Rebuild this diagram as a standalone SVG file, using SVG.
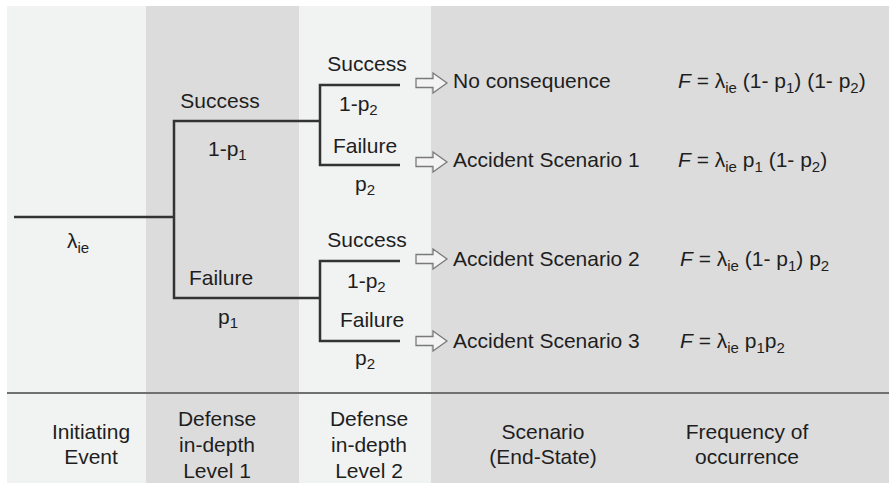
<svg xmlns="http://www.w3.org/2000/svg" xmlns:xlink="http://www.w3.org/1999/xlink" width="889" height="493" viewBox="0 0 889 493">
  <style>
    text { font-family: "Liberation Sans", Arial, Helvetica, sans-serif; font-size: 21px; fill: #1e1e1e; }
    .c { text-anchor: middle; }
    .sub { font-size: 15px; }
    .it { font-style: italic; }
    .branch { fill: none; stroke: #333; stroke-width: 2.5; stroke-linejoin: miter; stroke-linecap: butt; }
    .arrow { fill: #f3f3f3; stroke: #7a7a7a; stroke-width: 1.3; stroke-linejoin: miter; }
    .light { fill: #f1f2f2; }
    .dark { fill: #dcdcdc; }
  </style>
  <defs>
    <!-- hollow block arrow pointing right, origin at tail centre -->
    <path id="blockArrow" class="arrow" d="M0,-4.5 H17 V-10 L31,0 L17,10 V4.5 H0 Z"/>
  </defs>

  <rect width="889" height="493" fill="#ffffff"/>

  <!-- column bands -->
  <g id="bands">
    <rect class="light" x="7" y="6" width="139" height="477"/>
    <rect class="dark" x="146" y="6" width="153" height="477"/>
    <rect class="light" x="299" y="6" width="132" height="477"/>
    <rect class="dark" x="431" y="6" width="458" height="477"/>
    <line x1="7" y1="393" x2="889" y2="393" stroke="#707070" stroke-width="2"/>
  </g>

  <!-- event tree branches and end-state arrows -->
  <g id="connectors">
    <path class="branch" d="M14,217 H174"/>
    <path class="branch" d="M320,121 H174 V298 H320"/>
    <path class="branch" d="M400,85 H320 V165 H400"/>
    <path class="branch" d="M320,121 H320"/>
    <path class="branch" d="M400,261 H320 V341 H400"/>
    <use xlink:href="#blockArrow" x="416" y="83"/>
    <use xlink:href="#blockArrow" x="416" y="162"/>
    <use xlink:href="#blockArrow" x="416" y="259"/>
    <use xlink:href="#blockArrow" x="416" y="341"/>
  </g>

  <g id="initiating-event">
    <text x="67" y="248">λ<tspan class="sub" dy="5">ie</tspan></text>
  </g>

  <g id="level1-success">
    <text class="c" x="220" y="108">Success</text>
    <text x="208" y="156">1-p<tspan class="sub" dy="4">1</tspan></text>
  </g>
  <g id="level1-failure">
    <text class="c" x="221" y="285">Failure</text>
    <text x="218" y="324">p<tspan class="sub" dy="4">1</tspan></text>
  </g>

  <g id="level2-upper-success">
    <text class="c" x="367" y="71">Success</text>
    <text x="339" y="111">1-p<tspan class="sub" dy="4">2</tspan></text>
  </g>
  <g id="level2-upper-failure">
    <text class="c" x="365" y="153">Failure</text>
    <text x="355" y="191">p<tspan class="sub" dy="4">2</tspan></text>
  </g>
  <g id="level2-lower-success">
    <text class="c" x="367" y="247">Success</text>
    <text x="347" y="288">1-p<tspan class="sub" dy="4">2</tspan></text>
  </g>
  <g id="level2-lower-failure">
    <text class="c" x="372" y="327">Failure</text>
    <text x="355" y="365">p<tspan class="sub" dy="4">2</tspan></text>
  </g>

  <g id="end-state-1">
    <text x="453" y="88">No consequence</text>
    <text x="678" y="88"><tspan class="it">F</tspan> = λ<tspan class="sub" dy="5">ie</tspan><tspan dy="-5"> (1- p</tspan><tspan class="sub" dy="5">1</tspan><tspan dy="-5">) (1- p</tspan><tspan class="sub" dy="5">2</tspan><tspan dy="-5">)</tspan></text>
  </g>
  <g id="end-state-2">
    <text x="453" y="167">Accident Scenario 1</text>
    <text x="678" y="167"><tspan class="it">F</tspan> = λ<tspan class="sub" dy="5">ie</tspan><tspan dy="-5"> p</tspan><tspan class="sub" dy="5">1</tspan><tspan dy="-5"> (1- p</tspan><tspan class="sub" dy="5">2</tspan><tspan dy="-5">)</tspan></text>
  </g>
  <g id="end-state-3">
    <text x="453" y="266">Accident Scenario 2</text>
    <text x="680" y="266"><tspan class="it">F</tspan> = λ<tspan class="sub" dy="5">ie</tspan><tspan dy="-5"> (1- p</tspan><tspan class="sub" dy="5">1</tspan><tspan dy="-5">) p</tspan><tspan class="sub" dy="5">2</tspan></text>
  </g>
  <g id="end-state-4">
    <text x="453" y="348">Accident Scenario 3</text>
    <text x="680" y="348"><tspan class="it">F</tspan> = λ<tspan class="sub" dy="5">ie</tspan><tspan dy="-5"> p</tspan><tspan class="sub" dy="5">1</tspan><tspan dy="-5">p</tspan><tspan class="sub" dy="5">2</tspan></text>
  </g>

  <!-- column captions -->
  <g id="caption-initiating">
    <text class="c" x="91" y="439">Initiating</text>
    <text class="c" x="91" y="464">Event</text>
  </g>
  <g id="caption-level1">
    <text class="c" x="217" y="426">Defense</text>
    <text class="c" x="217" y="452">in-depth</text>
    <text class="c" x="217" y="478">Level 1</text>
  </g>
  <g id="caption-level2">
    <text class="c" x="369" y="426">Defense</text>
    <text class="c" x="369" y="452">in-depth</text>
    <text class="c" x="369" y="478">Level 2</text>
  </g>
  <g id="caption-scenario">
    <text class="c" x="543" y="439">Scenario</text>
    <text class="c" x="543" y="464">(End-State)</text>
  </g>
  <g id="caption-frequency">
    <text class="c" x="747" y="439">Frequency of</text>
    <text class="c" x="747" y="464">occurrence</text>
  </g>
</svg>
